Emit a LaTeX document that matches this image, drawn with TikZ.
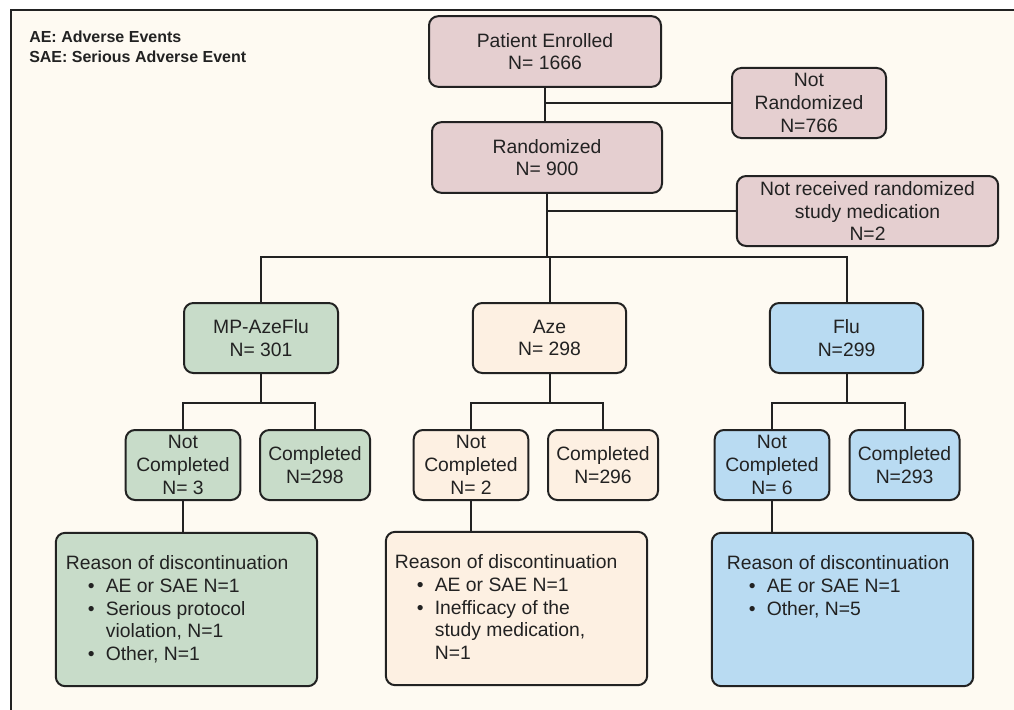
\documentclass[tikz,border=0pt]{standalone}
\usepackage{fontspec}
\setmainfont{Liberation Sans}
\usetikzlibrary{arrows}

\definecolor{paper}{HTML}{FEFAF2}
\definecolor{ink}{HTML}{222222}
\definecolor{rose}{HTML}{E5CFD0}
\definecolor{sage}{HTML}{C8DCC9}
\definecolor{sand}{HTML}{FDF0E2}
\definecolor{sky}{HTML}{B9DBF2}

\tikzset{
  box/.style={draw=ink, line width=1.5pt, rounded corners=7pt, align=center,
    inner sep=0pt, text=ink, font=\fontsize{14.5}{17}\selectfont},
  link/.style={draw=ink, line width=1.5pt},
}

\newcommand{\bul}[1]{\hspace*{16.5pt}\makebox[13.5pt][l]{\textbullet}#1}
\newcommand{\cnt}[1]{\hspace*{30pt}#1}
\newcommand{\reason}[2]{\hspace*{#1}\parbox[c][115pt][t]{\dimexpr196pt-#1\relax}{%
  \rule{0pt}{27.75pt}Reason of discontinuation\\#2}}

\begin{document}
\begin{tikzpicture}[x=0.75pt,y=-0.75pt]
	\useasboundingbox (0,0) rectangle (1014,710);
	\draw[line width=2pt, draw=ink, fill=paper] (11,10) rectangle (1040,740);

	\node[anchor=north west, align=left, inner sep=0pt, text=ink,
	  font=\bfseries\fontsize{12}{14.5}\selectfont] (legend) at (29,31)
	  {AE: Adverse Events\\SAE: Serious Adverse Event};

	% enrolment
	\node[box, fill=rose, minimum width=174pt, minimum height=53pt] (pe) at (545,51.5) {Patient Enrolled\\N= 1666};
	\node[box, fill=rose, minimum width=115.5pt, minimum height=52.5pt] (nr) at (809,103) {Not\\Randomized\\N=766};
	\node[box, fill=rose, minimum width=172.5pt, minimum height=53pt] (rd) at (547,157.5) {Randomized\\N= 900};
	\node[box, fill=rose, minimum width=196pt, minimum height=52.5pt] (nv) at (867.5,211) {Not received randomized\\study medication\\N=2};

	% arms
	\node[box, fill=sage, minimum width=115.5pt, minimum height=52.5pt] (mp) at (261,338) {MP-AzeFlu\\N= 301};
	\node[box, fill=sand, minimum width=115pt, minimum height=52.5pt] (aze) at (549.5,338) {Aze\\N= 298};
	\node[box, fill=sky, minimum width=115pt, minimum height=52.5pt] (flu) at (846.5,338) {Flu\\N=299};

	% completion
	\node[box, fill=sage, minimum width=86pt, minimum height=52.5pt] (mpnc) at (183,465) {Not\\Completed\\N= 3};
	\node[box, fill=sage, minimum width=82.5pt, minimum height=52.5pt] (mpc) at (315,465) {Completed\\N=298};
	\node[box, fill=sand, minimum width=86pt, minimum height=52.5pt] (azenc) at (471,465) {Not\\Completed\\N= 2};
	\node[box, fill=sand, minimum width=82.5pt, minimum height=52.5pt] (azec) at (603,465) {Completed\\N=296};
	\node[box, fill=sky, minimum width=86pt, minimum height=52.5pt] (flunc) at (772,465) {Not\\Completed\\N= 6};
	\node[box, fill=sky, minimum width=82.5pt, minimum height=52.5pt] (fluc) at (904.5,465) {Completed\\N=293};

	% reasons
	\node[box, fill=sage, align=left] (mpr) at (186.5,609.5)
	  {\reason{7.5pt}{\bul{AE or SAE N=1}\\\bul{Serious protocol}\\\cnt{violation, N=1}\\\bul{Other, N=1}}};
	\node[box, fill=sand, align=left] (azer) at (516.5,608.5)
	  {\reason{6.75pt}{\bul{AE or SAE N=1}\\\bul{Inefficacy of the}\\\cnt{study medication,}\\\cnt{N=1}}};
	\node[box, fill=sky, align=left] (flur) at (842.5,609.5)
	  {\reason{11.25pt}{\bul{AE or SAE N=1}\\\bul{Other, N=5}}};

	\coordinate (split) at (547,257);
	\draw[link] (pe.south) -- (pe.south |- rd.north);
	\draw[link] (pe.south |- nr.west) -- (nr.west);
	\draw[link] (rd.south) -- (rd.south |- split);
	\draw[link] (rd.south |- nv.west) -- (nv.west);
	\draw[link] (mp.north) |- (split) -| (flu.north);
	\draw[link] (aze.north |- split) -- (aze.north);
	\foreach \g in {mp,aze,flu} {
		\draw[link] (\g.south) -- ++(0,29) coordinate (\g j);
		\draw[link] (\g nc.north) |- (\g j) -| (\g c.north);
		\draw[link] (\g nc.south) -- (\g nc.south |- \g r.north);
	}
\end{tikzpicture}
\end{document}
